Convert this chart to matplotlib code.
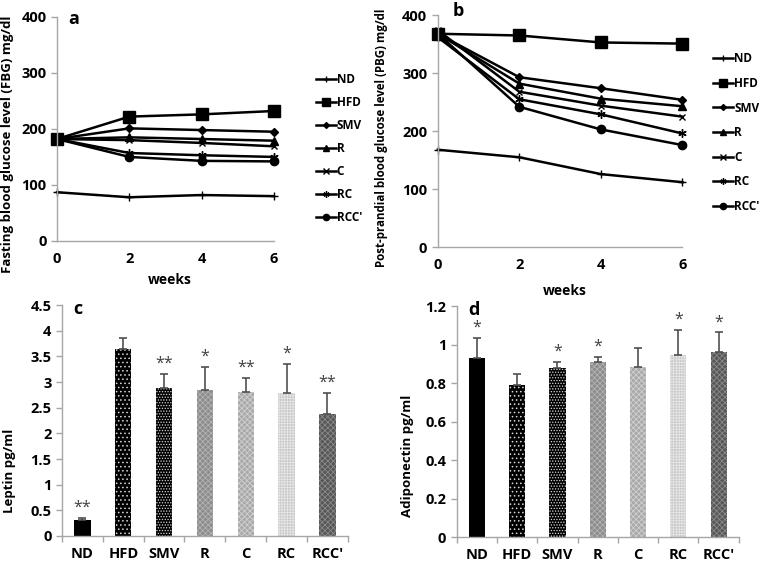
import numpy as np
import matplotlib
matplotlib.use("Agg")
import matplotlib.pyplot as plt
from matplotlib.ticker import FuncFormatter

plt.rcParams['font.family'] = ['Open Sans', 'DejaVu Sans']
plt.rcParams['font.weight'] = 'bold'
plt.rcParams['hatch.linewidth'] = 0.6

# ==========================================
# Data
# ==========================================
groups = ['ND', 'HFD', 'SMV', 'R', 'C', 'RC', "RCC'"]
weeks = [0, 2, 4, 6]

fbg = {
    'ND':   [87, 78, 82, 80],
    'HFD':  [182, 222, 226, 232],
    'SMV':  [182, 201, 198, 195],
    'R':    [182, 185, 182, 179],
    'C':    [182, 180, 175, 169],
    'RC':   [182, 157, 153, 150],
    "RCC'": [182, 150, 143, 142],
}
pbg = {
    'ND':   [168, 155, 126, 112],
    'HFD':  [368, 365, 353, 351],
    'SMV':  [368, 293, 274, 254],
    'R':    [368, 282, 256, 243],
    'C':    [374, 268, 244, 225],
    'RC':   [362, 255, 229, 196],
    "RCC'": [368, 242, 203, 176],
}

leptin = [0.31, 3.64, 2.88, 2.84, 2.80, 2.78, 2.37]
leptin_err = [0.04, 0.21, 0.27, 0.45, 0.27, 0.57, 0.42]
leptin_sig = ['**', '', '**', '*', '**', '*', '**']

adipo = [0.928, 0.792, 0.876, 0.911, 0.886, 0.948, 0.960]
adipo_err = [0.107, 0.055, 0.036, 0.027, 0.094, 0.127, 0.103]
adipo_sig = ['*', '', '*', '*', '', '*', '*']

# ==========================================
# Styles
# ==========================================
markers = {
    'ND':   dict(marker='+', ms=6, mew=1.0),
    'HFD':  dict(marker='s', ms=8),
    'SMV':  dict(marker='D', ms=4),
    'R':    dict(marker='^', ms=6),
    'C':    dict(marker='x', ms=5, mew=1.0),
    'RC':   dict(marker=(6, 2, 0), ms=6, mew=1.0),
    "RCC'": dict(marker='o', ms=6),
}
bar_face = ['black', 'black', 'black', '#8c8c8c', '#a9a9a9', '#c8c8c8', '#575757']
bar_hatch = [None, '....', '......', 'xxxxxx', 'xxxxxx', '++++++', 'xxxxxx']
bar_hcol = ['black', '#d8d8d8', '#d8d8d8', '#b4b4b4', '#d0d0d0', '#e6e6e6', '#8a8a8a']

SPINE = '#a6a6a6'
TICK_FS = 10.5
LAB_FS = 9.5


def style_axes(ax):
    for s in ['top', 'right']:
        ax.spines[s].set_visible(False)
    for s in ['left', 'bottom']:
        ax.spines[s].set_color(SPINE)
        ax.spines[s].set_linewidth(1.0)
    ax.tick_params(colors=SPINE, labelcolor='black', labelsize=TICK_FS, length=4, width=1.0)
    for lab in ax.get_xticklabels() + ax.get_yticklabels():
        lab.set_fontweight('bold')


def line_panel(ax, data, letter, ylabel, ylabel_pos, weeks_pos, letter_pos, leg_anchor, leg_spacing, ylab_fs):
    for g in groups:
        ax.plot(weeks, data[g], color='black', lw=1.8, label=g, **markers[g])
    ax.set_xlim(0, 6)
    ax.set_ylim(0, 400)
    ax.set_xticks(weeks)
    ax.set_yticks([0, 100, 200, 300, 400])
    for a in ax.lines:
        a.set_clip_on(False)
    style_axes(ax)
    ax.tick_params(axis='x', length=0, pad=8)
    ax.set_ylabel(ylabel, fontsize=ylab_fs, fontweight='bold')
    ax.yaxis.set_label_coords(*ylabel_pos)
    ax.text(weeks_pos[0], weeks_pos[1], 'weeks', transform=ax.transAxes,
            ha='center', va='center', fontsize=LAB_FS + 0.5, fontweight='bold')
    ax.text(letter_pos[0], letter_pos[1], letter, transform=ax.transAxes,
            fontsize=13, fontweight='bold', va='center')
    ax.legend(loc='upper left', bbox_to_anchor=leg_anchor, frameon=False,
              fontsize=8.5, handlelength=1.7, handletextpad=0.1, markerscale=0.75,
              labelspacing=leg_spacing, borderaxespad=0)


def bar_panel(ax, vals, errs, sig, ymax, step, letter, ylabel, ylabel_pos, star_off):
    x = np.arange(len(groups))
    for i in range(len(groups)):
        ax.bar(x[i], vals[i], width=0.4, color=bar_face[i], hatch=bar_hatch[i],
               edgecolor=bar_hcol[i], linewidth=0, zorder=2)
        ax.errorbar(x[i], vals[i], yerr=[[0], [errs[i]]], fmt='none',
                    ecolor='#505050', elinewidth=1.2, capsize=3, capthick=1.2, zorder=3)
        if sig[i]:
            ax.text(x[i], vals[i] + errs[i] + star_off, sig[i], ha='center', va='bottom',
                    fontsize=11.5, color='#404040', fontweight='normal')
    ax.set_xlim(-0.5, len(groups) - 0.5)
    ax.set_ylim(0, ymax)
    ax.set_yticks(np.arange(0, ymax + step / 2, step))
    ax.yaxis.set_major_formatter(FuncFormatter(lambda v, p: '%g' % round(v, 2)))
    ax.set_xticks(np.arange(-0.5, len(groups), 1.0))
    ax.set_xticklabels([])
    ax.set_xticks(x, minor=True)
    ax.set_xticklabels(groups, minor=True)
    style_axes(ax)
    ax.tick_params(axis='x', which='minor', length=0, pad=8, labelsize=TICK_FS)
    for lab in ax.get_xticklabels(minor=True):
        lab.set_fontweight('bold')
    ax.set_ylabel(ylabel, fontsize=LAB_FS, fontweight='bold')
    ax.yaxis.set_label_coords(*ylabel_pos)
    ax.text(0.04, 0.985, letter, transform=ax.transAxes, fontsize=13,
            fontweight='bold', va='center')


fig = plt.figure(figsize=(7.6, 5.63), dpi=100)

ax_a = fig.add_axes([0.075, 0.572, 0.2855, 0.398])
line_panel(ax_a, fbg, 'a', 'Fasting blood glucose level (FBG) mg/dl',
           (-0.2, 0.43), (0.52, -0.175), (0.05, 0.99),
           (1.17, 0.77), 0.85, LAB_FS)

ax_b = fig.add_axes([0.576, 0.561, 0.322, 0.412])
line_panel(ax_b, pbg, 'b', 'Post-prandial blood glucose level (PBG) mg/dl',
           (-0.205, 0.47), (0.518, -0.19), (0.06, 1.02),
           (1.105, 0.86), 0.98, 8.3)

ax_c = fig.add_axes([0.0816, 0.048, 0.376, 0.410])
bar_panel(ax_c, leptin, leptin_err, leptin_sig, 4.5, 0.5, 'c', 'Leptin pg/ml',
          (-0.16, 0.28), 0.05)

ax_d = fig.add_axes([0.601, 0.046, 0.371, 0.4103])
bar_panel(ax_d, adipo, adipo_err, adipo_sig, 1.2, 0.2, 'd', 'Adiponectin pg/ml',
          (-0.15, 0.35), 0.012)

fig.savefig('out.png', dpi=100)
